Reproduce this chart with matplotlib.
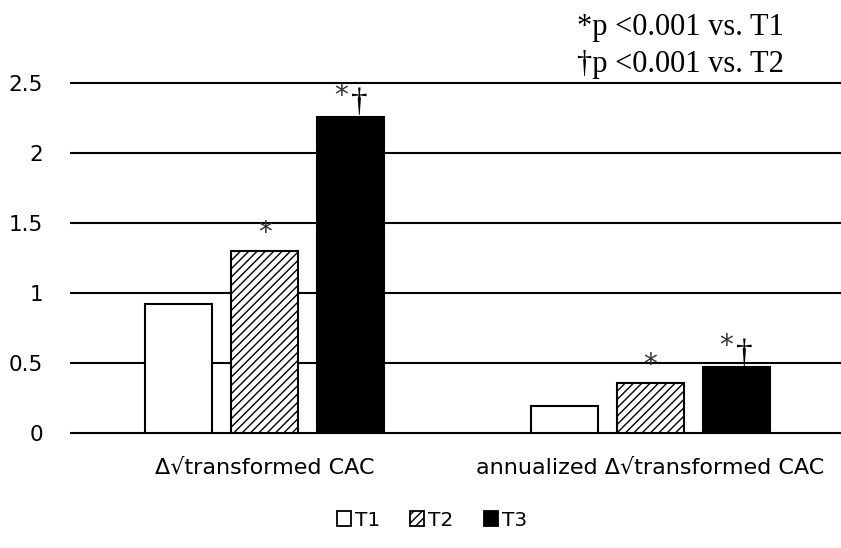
import numpy as np
from matplotlib import pyplot as plt
from matplotlib.patches import Patch

# data
groups = ['Δ√transformed CAC', 'annualized Δ√transformed CAC']
series = ['T1', 'T2', 'T3']
t1 = [0.92, 0.19]
t2 = [1.30, 0.36]
t3 = [2.26, 0.47]
yticks = [0, 0.5, 1, 1.5, 2, 2.5]
ylabels = ['0', '0.5', '1', '1.5', '2', '2.5']

plt.rcParams['hatch.linewidth'] = 1.0

fig = plt.figure(figsize=(8.41, 5.48), dpi=100)
ax = fig.add_axes([71/841, 1-433/548, 1-71/841, (433-83)/548])

x = np.arange(len(groups))
w = 0.174
off = 0.223

ax.bar(x - off, t1, w, color='white', edgecolor='black', linewidth=1.5, zorder=3)
ax.bar(x, t2, w, color='white', edgecolor='black', linewidth=1.5, hatch='////', zorder=3)
ax.bar(x + off, t3, w, color='black', edgecolor='black', linewidth=1.5, zorder=3)

# significance marks
for i in range(len(groups)):
    ax.annotate('*', (x[i], t2[i]), xytext=(0, 13), textcoords='offset points',
                ha='center', va='center', fontsize=20, color='#333333')
    ax.annotate('*', (x[i] + off, t3[i]), xytext=(-7, 15), textcoords='offset points',
                ha='center', va='center', fontsize=20, color='#333333')
    ax.annotate('†', (x[i] + off, t3[i]), xytext=(6, -1), textcoords='offset points',
                ha='center', va='bottom', fontsize=24, family='Liberation Serif')

ax.set_ylim(0, 2.5)
ax.set_xlim(-0.503, 1.495)
ax.set_yticks(yticks)
ax.set_yticklabels(ylabels)
ax.set_xticks(x)
ax.set_xticklabels(groups)
ax.tick_params(axis='y', length=0, pad=20, labelsize=15.5)
ax.tick_params(axis='x', length=0, pad=18, labelsize=16)
ax.yaxis.grid(True, color='black', linewidth=1.5, zorder=0)
for line in ax.get_ygridlines():
    line.set_clip_on(False)
for s in ax.spines.values():
    s.set_visible(False)

fig.text(577/841, 1-35/548, '*p <0.001 vs. T1', family='Liberation Serif', fontsize=22, va='baseline')
fig.text(577/841, 1-72/548, '†p <0.001 vs. T2', family='Liberation Serif', fontsize=22, va='baseline')

handles = [Patch(facecolor='white', edgecolor='black', linewidth=1.3),
           Patch(facecolor='white', edgecolor='black', linewidth=1.3, hatch='////'),
           Patch(facecolor='black', edgecolor='black', linewidth=1.3)]
fig.legend(handles, series, loc='center', bbox_to_anchor=(432/841, 1-520/548), ncol=3,
           frameon=False, fontsize=14.5, handlelength=0.7, handleheight=0.7,
           handletextpad=0.2, columnspacing=1.5)

fig.savefig('out.png', dpi=100)
